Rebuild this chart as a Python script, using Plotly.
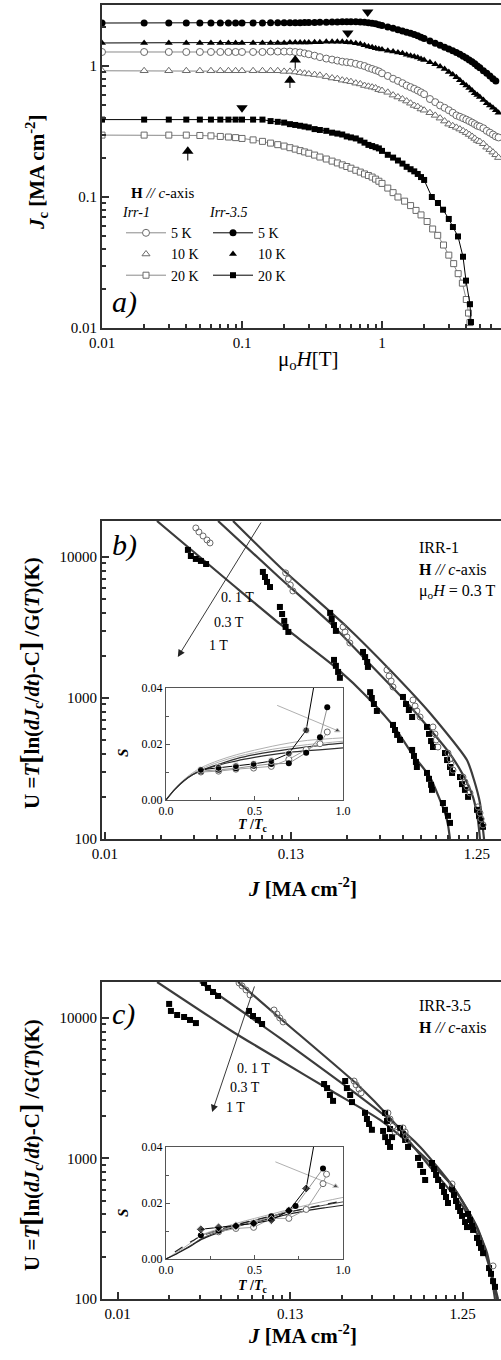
import math
import plotly.graph_objects as go

FONT = "Liberation Serif"
W, HGT = 501, 1360

# ---------------- Panel a: Jc vs mu0H ----------------
H_low = [0.01, 0.02, 0.03, 0.04, 0.05, 0.06, 0.07, 0.08, 0.09, 0.10,
         0.12, 0.14, 0.16, 0.18, 0.20, 0.22, 0.24, 0.26, 0.28, 0.30,
         0.33, 0.36, 0.40, 0.44, 0.48, 0.52, 0.56, 0.60, 0.65, 0.70,
         0.75, 0.80, 0.85, 0.90, 0.95, 1.0]
H_tail_65 = [1.1, 1.2, 1.3, 1.4, 1.5, 1.6, 1.7, 1.8, 1.9, 2.0,
             2.2, 2.4, 2.6, 2.8, 3.0, 3.2, 3.4, 3.6, 3.8, 4.0,
             4.2, 4.4, 4.6, 4.8, 5.0, 5.3, 5.6, 5.9, 6.2, 6.5]
H_tail_68 = H_tail_65 + [6.8]
H_tail_irr35_20K = [1.1, 1.2, 1.3, 1.4, 1.5, 1.6, 1.7, 1.8, 1.9, 2.0,
                    2.27, 2.51, 2.73, 3.0, 3.21, 3.49, 3.79, 3.98, 4.25, 4.32]
H_tail_irr1_20K = [1.1, 1.2, 1.3, 1.45, 1.6, 1.75, 1.9, 2.1, 2.3, 2.5,
                   2.75, 3.0, 3.25, 3.5, 3.75, 4.0, 4.15, 4.25]

Jc_irr35_5K = [2.13, 2.13, 2.13, 2.13, 2.13, 2.13, 2.13, 2.13, 2.13, 2.13,
               2.13, 2.13, 2.14, 2.14, 2.14, 2.14, 2.14, 2.14, 2.15, 2.15,
               2.15, 2.16, 2.16, 2.17, 2.17, 2.18, 2.18, 2.18, 2.18, 2.17,
               2.16, 2.14, 2.12, 2.10, 2.07, 2.04,
               1.99, 1.94, 1.89, 1.85, 1.81, 1.78, 1.74, 1.70, 1.66, 1.62,
               1.55, 1.49, 1.44, 1.39, 1.35, 1.31, 1.27, 1.23, 1.19, 1.15,
               1.11, 1.08, 1.04, 1.00, 0.97, 0.92, 0.88, 0.84, 0.80, 0.77]
Jc_irr35_10K = [1.50, 1.50, 1.50, 1.50, 1.50, 1.50, 1.50, 1.50, 1.50, 1.50,
                1.50, 1.50, 1.50, 1.50, 1.50, 1.51, 1.51, 1.51, 1.51, 1.51,
                1.52, 1.52, 1.53, 1.53, 1.53, 1.53, 1.52, 1.51, 1.49, 1.47,
                1.44, 1.41, 1.39, 1.37, 1.35, 1.34,
                1.31, 1.29, 1.27, 1.25, 1.22, 1.20, 1.18, 1.16, 1.13, 1.11,
                1.07, 1.03, 0.99, 0.95, 0.90, 0.86, 0.82, 0.78, 0.74, 0.71,
                0.68, 0.65, 0.62, 0.60, 0.58, 0.55, 0.52, 0.50, 0.48, 0.46, 0.44]
Jc_irr35_20K = [0.39, 0.39, 0.39, 0.39, 0.39, 0.39, 0.39, 0.39, 0.39, 0.39,
                0.39, 0.39, 0.38, 0.375, 0.37, 0.36, 0.355, 0.35, 0.345, 0.34,
                0.33, 0.325, 0.32, 0.31, 0.305, 0.30, 0.29, 0.285, 0.28, 0.27,
                0.26, 0.25, 0.245, 0.24, 0.235, 0.225,
                0.21, 0.20, 0.19, 0.18, 0.17, 0.163, 0.157, 0.15, 0.142, 0.135,
                0.10, 0.09, 0.08, 0.068, 0.059, 0.05, 0.035, 0.023, 0.0152, 0.0111]
Jc_irr1_5K = [1.28, 1.28, 1.28, 1.28, 1.28, 1.28, 1.28, 1.28, 1.28, 1.28,
              1.28, 1.28, 1.29, 1.29, 1.29, 1.29, 1.28, 1.27, 1.25, 1.23,
              1.20, 1.17, 1.14, 1.12, 1.10, 1.08, 1.07, 1.06, 1.04, 1.02,
              1.00, 0.97, 0.95, 0.93, 0.91, 0.88,
              0.84, 0.80, 0.77, 0.74, 0.71, 0.69, 0.67, 0.65, 0.63, 0.61,
              0.56, 0.53, 0.50, 0.48, 0.46, 0.44, 0.42, 0.41, 0.40, 0.39,
              0.38, 0.37, 0.36, 0.35, 0.345, 0.335, 0.32, 0.31, 0.30, 0.29, 0.285]
Jc_irr1_10K = [0.92, 0.92, 0.92, 0.92, 0.92, 0.92, 0.92, 0.92, 0.92, 0.92,
               0.92, 0.92, 0.92, 0.92, 0.91, 0.91, 0.90, 0.89, 0.88, 0.87,
               0.86, 0.85, 0.83, 0.81, 0.80, 0.78, 0.77, 0.76, 0.74, 0.73,
               0.71, 0.70, 0.69, 0.68, 0.66, 0.65,
               0.63, 0.60, 0.58, 0.56, 0.54, 0.52, 0.50, 0.49, 0.47, 0.46,
               0.44, 0.42, 0.40, 0.38, 0.36, 0.35, 0.34, 0.33, 0.32, 0.31,
               0.30, 0.29, 0.28, 0.27, 0.265, 0.255, 0.24, 0.23, 0.22, 0.21, 0.20]
Jc_irr1_20K = [0.297, 0.297, 0.297, 0.297, 0.295, 0.293, 0.29, 0.287, 0.284, 0.28,
               0.273, 0.266, 0.258, 0.251, 0.245, 0.238, 0.232, 0.226, 0.221, 0.216,
               0.209, 0.202, 0.195, 0.188, 0.182, 0.176, 0.171, 0.166, 0.16, 0.155,
               0.15, 0.146, 0.142, 0.137, 0.132, 0.127,
               0.117, 0.108, 0.100, 0.093, 0.086, 0.079, 0.073, 0.065, 0.057, 0.051,
               0.043, 0.036, 0.031, 0.026, 0.022, 0.0165, 0.013, 0.011]

# crossover-field arrows of panel a
arrow_down_H = [0.79, 0.57, 0.10]
arrow_down_J = [2.58, 1.79, 0.48]
arrow_up_H = [0.24, 0.22, 0.041]
arrow_up_J = [1.11, 0.78, 0.224]
arrow_up_stem_J = [0.96, 0.68, 0.19]

# ---------------- Panel b: U(J), IRR-1 ----------------
fitb_01T_J = [0.061, 0.109, 0.250, 0.426, 0.698, 1.104, 1.205, 1.297, 1.330, 1.364]
fitb_01T_U = [17990, 8490, 3190, 1580, 783, 363, 262, 180, 136, 100]
fitb_03T_J = [0.0507, 0.109, 0.203, 0.305, 0.526, 0.863, 1.038, 1.189, 1.265, 1.297]
fitb_03T_U = [17990, 7100, 3400, 1953, 923, 428, 294, 199, 136, 100]
fitb_1T_J = [0.0238, 0.061, 0.109, 0.216, 0.333, 0.453, 0.566, 0.698, 0.841, 0.873, 0.895]
fitb_1T_U = [17990, 6330, 3350, 1660, 968, 612, 394, 275, 153, 126, 100]

b_filled_J = [0.0349, 0.0362, 0.0385, 0.0410, 0.0437,
              0.0883, 0.0906, 0.0929, 0.0964,
              0.109, 0.112, 0.115, 0.117, 0.121,
              0.203, 0.207, 0.213, 0.218,
              0.213, 0.218, 0.224, 0.229,
              0.305, 0.313, 0.321, 0.324,
              0.333, 0.340, 0.349, 0.362,
              0.442, 0.453, 0.465, 0.482,
              0.500, 0.519, 0.538, 0.560,
              0.560, 0.573, 0.587, 0.594,
              0.673, 0.690, 0.708, 0.725,
              0.673, 0.690, 0.708, 0.716,
              0.841, 0.863, 0.895, 0.918,
              0.820, 0.841, 0.873, 0.895,
              1.013, 1.038, 1.077, 1.119,
              1.250, 1.282, 1.315, 1.347]
b_filled_U = [11220, 10160, 9680, 9370, 8910,
              7830, 7210, 6650, 6120,
              4420, 3940, 3520, 3190, 2940,
              4010, 3630, 3290, 2990,
              1862, 1690, 1530, 1390,
              2120, 1950, 1800, 1660,
              1100, 1000, 906, 809,
              644, 593, 547, 504,
              1017, 906, 822, 733,
              428, 388, 352, 324,
              623, 556, 495, 449,
              294, 267, 242, 223,
              407, 363, 324, 294,
              180, 161, 146, 130,
              275, 245, 223, 199,
              161, 146, 134, 122]
b_open_J = [0.0385, 0.0400, 0.0421, 0.0442, 0.0459,
            0.117, 0.121, 0.124, 0.128,
            0.238, 0.244, 0.250, 0.259,
            0.410, 0.421, 0.432, 0.442,
            0.566, 0.581, 0.594, 0.618,
            0.725, 0.743, 0.754, 0.771,
            0.873, 0.895, 0.906, 0.929,
            1.051, 1.077, 1.104, 1.146,
            1.265, 1.297, 1.315, 1.347]
b_open_U = [16060, 15040, 14090, 13200, 12570,
            7710, 6980, 6330, 5740,
            3190, 2940, 2710, 2455,
            1580, 1432, 1320, 1197,
            968, 877, 809, 733,
            623, 556, 504, 449,
            407, 369, 340, 308,
            275, 254, 234, 212,
            169, 153, 139, 126]

# field arrow in panel b (tail -> head)
b_arrow_J = [0.0873, 0.0308]
b_arrow_U = [17990, 1953]

# ---------------- Panel c: U(J), IRR-3.5 ----------------
fitc_01T_J = [0.0625, 0.109, 0.318, 0.475, 0.811, 1.259, 1.644, 1.879, 2.009]
fitc_01T_U = [18030, 10000, 3230, 1942, 870, 452, 234, 137, 100]
fitc_03T_J = [0.0376, 0.109, 0.267, 0.475, 0.710, 1.102, 1.517, 1.804, 1.982]
fitc_03T_U = [18030, 7210, 3230, 1880, 1208, 627, 325, 169, 100]
fitc_1T_J = [0.0212, 0.0585, 0.109, 0.213, 0.416, 0.710, 1.102, 1.439, 1.734, 1.928]
fitc_1T_U = [18030, 7950, 5020, 3070, 1880, 1094, 627, 365, 212, 100]

c_filled_J = [0.0249, 0.0255, 0.0277, 0.0304, 0.0329, 0.0356,
              0.0397, 0.0418, 0.0447, 0.0478,
              0.0723, 0.0763, 0.0815, 0.0861,
              0.197, 0.205, 0.213, 0.222,
              0.261, 0.267, 0.279, 0.286,
              0.340, 0.349, 0.359, 0.373,
              0.445, 0.456, 0.475, 0.488,
              0.433, 0.445, 0.462, 0.475,
              0.543, 0.565, 0.581, 0.604,
              0.690, 0.710, 0.738, 0.759,
              0.832, 0.855, 0.878, 0.902,
              0.951, 0.977, 1.003, 1.030,
              1.087, 1.116, 1.146, 1.178,
              1.210, 1.242, 1.293, 1.327,
              1.345, 1.382, 1.419, 1.439,
              1.517, 1.558, 1.600, 1.644,
              1.781, 1.828, 1.879, 1.928]
c_filled_U = [12590, 11220, 10500, 10160, 9680, 9200,
              17750, 16360, 15310, 14340,
              11220, 10330, 9680, 9060,
              3390, 3170, 2830, 2570,
              3560, 3170, 2830, 2520,
              2110, 1910, 1760, 1600,
              2110, 1850, 1620, 1420,
              1570, 1420, 1310, 1208,
              1650, 1490, 1355, 1208,
              1009, 899, 802, 703,
              929, 842, 763, 703,
              637, 578, 532, 482,
              607, 550, 498, 452,
              423, 390, 353, 325,
              403, 365, 331, 310,
              272, 250, 231, 212,
              166, 151, 134, 122]
c_open_J = [0.0633, 0.0659, 0.0695, 0.0733,
            0.101, 0.105, 0.109, 0.114,
            0.294, 0.302, 0.314, 0.323,
            0.462, 0.475, 0.494, 0.508,
            0.565, 0.581, 0.588, 0.604,
            1.087, 1.879]
c_open_U = [17750, 16900, 15820, 14580,
            11400, 10670, 10000, 9370,
            3560, 3340, 3120, 2930,
            2110, 1910, 1700, 1545,
            1650, 1545, 1445, 1355,
            659, 172]

c_arrow_J = [0.0783, 0.0442]
c_arrow_U = [17180, 2140]

# ---------------- Insets: S(T/Tc) ----------------
fit_T = [0.0, 0.05, 0.1, 0.15, 0.2, 0.3, 0.4, 0.5, 0.6, 0.7, 0.8, 0.9, 1.0]
insb_fit_dark1 = [0, 0.0038, 0.0068, 0.0090, 0.0105, 0.0125, 0.0140, 0.0152, 0.0162, 0.0170, 0.0176, 0.0181, 0.0186]
insb_fit_dark2 = [0, 0.0038, 0.0068, 0.0090, 0.0106, 0.0128, 0.0148, 0.0162, 0.0173, 0.0182, 0.0190, 0.0197, 0.0203]
insb_fit_gray1 = [0, 0.0040, 0.0072, 0.0097, 0.0116, 0.0142, 0.0162, 0.0178, 0.0192, 0.0204, 0.0213, 0.0218, 0.0222]
insb_fit_gray2 = [0, 0.0039, 0.0070, 0.0094, 0.0111, 0.0136, 0.0155, 0.0169, 0.0181, 0.0190, 0.0198, 0.0204, 0.0210]

insb_s1_T = [0.197, 0.297, 0.395, 0.495, 0.595, 0.694, 0.792, 0.835]
insb_s1_S = [0.0108, 0.0115, 0.0121, 0.0129, 0.0139, 0.0166, 0.0249, 0.0405]
insb_s2_T = [0.197, 0.297, 0.395, 0.495, 0.595, 0.694, 0.792, 0.870, 0.911]
insb_s2_S = [0.0103, 0.0108, 0.0113, 0.0122, 0.0129, 0.0131, 0.0169, 0.0224, 0.0331]
insb_open_T = [0.197, 0.297, 0.395, 0.495, 0.595, 0.694, 0.792, 0.870, 0.911]
insb_open_S = [0.0100, 0.0103, 0.0110, 0.0114, 0.0120, 0.0145, 0.0180, 0.0201, 0.0243]
insb_ptr_T = [0.628, 0.968]
insb_ptr_S = [0.0338, 0.0248]

fit_T_dash = [0.05, 0.1, 0.15, 0.2, 0.3, 0.4, 0.5, 0.6, 0.7, 0.8, 0.9, 1.0]
insc_fit_solid1 = [0, 0.0015, 0.0032, 0.0050, 0.0070, 0.0095, 0.0116, 0.0132, 0.0146, 0.0161, 0.0173, 0.0183, 0.0192]
insc_fit_solid2 = [0, 0.0016, 0.0034, 0.0053, 0.0073, 0.0099, 0.0121, 0.0138, 0.0153, 0.0169, 0.0181, 0.0193, 0.0204]
insc_fit_gray = [0, 0.0020, 0.0040, 0.0062, 0.0085, 0.0108, 0.0128, 0.0145, 0.0161, 0.0178, 0.0193, 0.0207, 0.0220]
insc_fit_dash = [0.0025, 0.0046, 0.0065, 0.0082, 0.0104, 0.0123, 0.0139, 0.0154, 0.0168, 0.0182, 0.0195, 0.0207]

insc_s1_T = [0.197, 0.297, 0.395, 0.495, 0.595, 0.694, 0.792, 0.835]
insc_s1_S = [0.0106, 0.0113, 0.0118, 0.0127, 0.0139, 0.0172, 0.0252, 0.0405]
insc_s2_T = [0.197, 0.297, 0.395, 0.495, 0.595, 0.694, 0.732, 0.887]
insc_s2_S = [0.0085, 0.0101, 0.0118, 0.0129, 0.0153, 0.0174, 0.0189, 0.0323]
insc_open_T = [0.297, 0.395, 0.495, 0.595, 0.694, 0.792, 0.887, 0.907]
insc_open_S = [0.0097, 0.0109, 0.0113, 0.0145, 0.0145, 0.0177, 0.0269, 0.0303]
insc_ptr_T = [0.618, 0.958]
insc_ptr_S = [0.0347, 0.0260]

# ---------------- build figure ----------------
GRAY_L = "#8a8a8a"
GRAY_M = "#6a6a6a"
DARK = "#3c3c3c"

fig = go.Figure()

def add(tr):
    fig.add_trace(tr)

# panel a series
add(go.Scatter(x=H_low + H_tail_68, y=Jc_irr1_5K, mode="lines+markers", name="5 K",
               legend="legend", xaxis="x", yaxis="y",
               line=dict(color=GRAY_L, width=1),
               marker=dict(symbol="circle", size=7, color="white", line=dict(color=GRAY_M, width=1))))
add(go.Scatter(x=H_low + H_tail_68, y=Jc_irr1_10K, mode="lines", showlegend=False,
               xaxis="x", yaxis="y", line=dict(color=GRAY_L, width=1)))
add(go.Scatter(x=H_low + H_tail_68, y=Jc_irr1_10K, mode="markers", name="10 K",
               legend="legend", xaxis="x", yaxis="y",
               marker=dict(symbol="triangle-up", size=7, color="white", line=dict(color=GRAY_M, width=1))))
add(go.Scatter(x=H_low + H_tail_irr1_20K, y=Jc_irr1_20K, mode="lines+markers", name="20 K",
               legend="legend", xaxis="x", yaxis="y",
               line=dict(color=GRAY_L, width=1),
               marker=dict(symbol="square", size=6, color="white", line=dict(color=GRAY_M, width=1))))
add(go.Scatter(x=H_low + H_tail_65, y=Jc_irr35_5K, mode="lines+markers", name="5 K",
               legend="legend2", xaxis="x", yaxis="y",
               line=dict(color="black", width=1),
               marker=dict(symbol="circle", size=7, color="black")))
add(go.Scatter(x=H_low + H_tail_68, y=Jc_irr35_10K, mode="lines", showlegend=False,
               xaxis="x", yaxis="y", line=dict(color="black", width=1)))
add(go.Scatter(x=H_low + H_tail_68, y=Jc_irr35_10K, mode="markers", name="10 K",
               legend="legend2", xaxis="x", yaxis="y",
               marker=dict(symbol="triangle-up", size=7, color="black")))
add(go.Scatter(x=H_low + H_tail_irr35_20K, y=Jc_irr35_20K, mode="lines+markers", name="20 K",
               legend="legend2", xaxis="x", yaxis="y",
               line=dict(color="black", width=1),
               marker=dict(symbol="square", size=6, color="black")))

# arrows panel a
add(go.Scatter(x=arrow_down_H, y=arrow_down_J, mode="markers", showlegend=False,
               xaxis="x", yaxis="y", marker=dict(symbol="triangle-down", size=10, color="black")))
stem_x, stem_y = [], []
for h, top, bot in zip(arrow_up_H, arrow_up_J, arrow_up_stem_J):
    stem_x += [h, h, None]
    stem_y += [top, bot, None]
add(go.Scatter(x=stem_x, y=stem_y, mode="lines", showlegend=False, xaxis="x", yaxis="y",
               line=dict(color="black", width=1)))
add(go.Scatter(x=arrow_up_H, y=arrow_up_J, mode="markers", showlegend=False,
               xaxis="x", yaxis="y", marker=dict(symbol="triangle-up", size=10, color="black")))

# panel b
for jx, uy in [(fitb_01T_J, fitb_01T_U), (fitb_03T_J, fitb_03T_U), (fitb_1T_J, fitb_1T_U)]:
    add(go.Scatter(x=jx, y=uy, mode="lines", showlegend=False, xaxis="x2", yaxis="y2",
                   line=dict(color=DARK, width=2.2, shape="spline", smoothing=0.6)))
add(go.Scatter(x=b_filled_J, y=b_filled_U, mode="markers", showlegend=False, xaxis="x2", yaxis="y2",
               marker=dict(symbol="square", size=6, color="black")))
add(go.Scatter(x=b_open_J, y=b_open_U, mode="markers", showlegend=False, xaxis="x2", yaxis="y2",
               marker=dict(symbol="circle-open", size=6, color=GRAY_M, line=dict(width=1))))

# panel c
for jx, uy in [(fitc_01T_J, fitc_01T_U), (fitc_03T_J, fitc_03T_U), (fitc_1T_J, fitc_1T_U)]:
    add(go.Scatter(x=jx, y=uy, mode="lines", showlegend=False, xaxis="x3", yaxis="y3",
                   line=dict(color=DARK, width=2.2, shape="spline", smoothing=0.6)))
add(go.Scatter(x=c_filled_J, y=c_filled_U, mode="markers", showlegend=False, xaxis="x3", yaxis="y3",
               marker=dict(symbol="square", size=6, color="black")))
add(go.Scatter(x=c_open_J, y=c_open_U, mode="markers", showlegend=False, xaxis="x3", yaxis="y3",
               marker=dict(symbol="circle-open", size=6, color=GRAY_M, line=dict(width=1))))

# inset b
for s, col, w in [(insb_fit_gray1, "#b0b0b0", 1), (insb_fit_gray2, "#b0b0b0", 1),
                  (insb_fit_dark2, "#303030", 1.2), (insb_fit_dark1, "#303030", 1.2)]:
    add(go.Scatter(x=fit_T, y=s, mode="lines", showlegend=False, xaxis="x4", yaxis="y4",
                   line=dict(color=col, width=w, shape="spline")))
add(go.Scatter(x=insb_ptr_T, y=insb_ptr_S, mode="lines+markers", showlegend=False, xaxis="x4", yaxis="y4",
               line=dict(color="#b0b0b0", width=1),
               marker=dict(symbol=["circle", "triangle-up"], size=[0, 5], color="black")))
add(go.Scatter(x=insb_open_T, y=insb_open_S, mode="lines+markers", showlegend=False, xaxis="x4", yaxis="y4",
               line=dict(color="#a0a0a0", width=1),
               marker=dict(symbol="circle", size=6, color="white", line=dict(color=GRAY_M, width=1))))
add(go.Scatter(x=insb_s2_T, y=insb_s2_S, mode="lines+markers", showlegend=False, xaxis="x4", yaxis="y4",
               line=dict(color="#909090", width=1),
               marker=dict(symbol="circle", size=6, color="black")))
add(go.Scatter(x=insb_s1_T, y=insb_s1_S, mode="lines+markers", showlegend=False, xaxis="x4", yaxis="y4",
               line=dict(color="black", width=1),
               marker=dict(symbol="circle", size=[7, 7, 7, 7, 7, 7, 7, 0], color="black")))

# inset c
for tt, s, col, w, dash in [(fit_T, insc_fit_gray, "#b0b0b0", 1, "solid"),
                            (fit_T, insc_fit_solid2, "#505050", 1, "solid"),
                            (fit_T, insc_fit_solid1, "#202020", 1.2, "solid"),
                            (fit_T_dash, insc_fit_dash, "#202020", 1.2, "dash")]:
    add(go.Scatter(x=tt, y=s, mode="lines", showlegend=False, xaxis="x5", yaxis="y5",
                   line=dict(color=col, width=w, shape="spline", dash=dash)))
add(go.Scatter(x=insc_ptr_T, y=insc_ptr_S, mode="lines+markers", showlegend=False, xaxis="x5", yaxis="y5",
               line=dict(color="#b0b0b0", width=1),
               marker=dict(symbol=["circle", "triangle-up"], size=[0, 5], color="black")))
add(go.Scatter(x=insc_open_T, y=insc_open_S, mode="lines+markers", showlegend=False, xaxis="x5", yaxis="y5",
               line=dict(color="#a0a0a0", width=1),
               marker=dict(symbol="circle", size=6, color="white", line=dict(color=GRAY_M, width=1))))
add(go.Scatter(x=insc_s2_T, y=insc_s2_S, mode="lines+markers", showlegend=False, xaxis="x5", yaxis="y5",
               line=dict(color="#909090", width=1),
               marker=dict(symbol="circle", size=6, color="black")))
add(go.Scatter(x=insc_s1_T, y=insc_s1_S, mode="lines+markers", showlegend=False, xaxis="x5", yaxis="y5",
               line=dict(color="black", width=1),
               marker=dict(symbol="diamond", size=[7, 7, 7, 7, 7, 7, 7, 0], color="black")))

# ---------------- axes ----------------
def px(x):
    return x / W

def py(y):
    return 1 - y / HGT

def minor_log(lo, hi, bases):
    vals = []
    for b in bases:
        for k in range(2, 10):
            v = b * k
            if lo <= v <= hi:
                vals.append(v)
    return vals

tickfont = dict(family=FONT, size=15, color="black")
main_common = dict(showline=True, linecolor="#303030", linewidth=2, ticks="inside", ticklen=7,
                   tickwidth=1.5, tickcolor="#303030", showgrid=False, zeroline=False,
                   tickfont=tickfont, automargin=False)

fig.update_layout(
    xaxis=dict(domain=[px(102), 1], type="log", range=[-2, 0.85], anchor="y", mirror=True,
               tickvals=[0.01, 0.1, 1], ticktext=["0.01", "0.1", "1"],
               minor=dict(tickvals=minor_log(0.01, 7, [0.01, 0.1, 1]), ticks="inside", ticklen=4,
                          tickcolor="#303030"),
               **main_common),
    yaxis=dict(domain=[py(328), py(5)], type="log", range=[-2, 0.466], anchor="x",
               tickvals=[0.01, 0.1, 1], ticktext=["0.01", "0.1", "1"],
               minor=dict(tickvals=minor_log(0.01, 2.9, [0.01, 0.1, 1]), ticks="inside", ticklen=4,
                          tickcolor="#303030"),
               **main_common),
    xaxis2=dict(domain=[px(102), 1], type="log", range=[-1.919, 0.226], anchor="y2", mirror=True,
                tickvals=[0.0125, 0.125, 1.25], ticktext=["0.01", "0.13", "1.25"],
                minor=dict(tickvals=minor_log(0.012, 1.7, [0.0125, 0.125, 1.25]), ticks="inside",
                           ticklen=4, tickcolor="#303030"),
                **main_common),
    yaxis2=dict(domain=[py(839), py(521)], type="log", range=[2, 4.255], anchor="x2",
                tickvals=[100, 1000, 10000], ticktext=["100", "1000", "10000"],
                minor=dict(tickvals=minor_log(100, 18000, [100, 1000, 10000]), ticks="inside",
                           ticklen=4, tickcolor="#303030"),
                **main_common),
    xaxis3=dict(domain=[px(102), 1], type="log", range=[-1.993, 0.320], anchor="y3", mirror=True,
                tickvals=[0.0125, 0.125, 1.25], ticktext=["0.01", "0.13", "1.25"],
                minor=dict(tickvals=minor_log(0.0102, 2.08, [0.0125, 0.125, 1.25]), ticks="inside",
                           ticklen=4, tickcolor="#303030"),
                **main_common),
    yaxis3=dict(domain=[py(1299), py(982)], type="log", range=[2, 4.256], anchor="x3",
                tickvals=[100, 1000, 10000], ticktext=["100", "1000", "10000"],
                minor=dict(tickvals=minor_log(100, 18000, [100, 1000, 10000]), ticks="inside",
                           ticklen=4, tickcolor="#303030"),
                **main_common),
)

inset_common = dict(showline=True, linecolor="#555555", linewidth=1, mirror=True, ticks="inside",
                    ticklen=4, tickwidth=1, tickcolor="#555555", showgrid=False, zeroline=False,
                    tickfont=dict(family=FONT, size=12, color="black"), automargin=False)
for n, (y0, y1) in [(4, (800, 688)), (5, (1259, 1147))]:
    fig.update_layout(**{
        f"xaxis{n}": dict(domain=[px(166), px(343)], range=[0, 1], anchor=f"y{n}",
                          tickvals=[0, 0.5, 1.0], ticktext=["0.0", "0.5", "1.0"],
                          minor=dict(dtick=0.25, ticks="inside", ticklen=3, tickcolor="#555555"),
                          **inset_common),
        f"yaxis{n}": dict(domain=[py(y0), py(y1)], range=[0, 0.04], anchor=f"x{n}",
                          tickvals=[0, 0.02, 0.04], ticktext=["0.00", "0.02", "0.04"],
                          minor=dict(dtick=0.01, ticks="inside", ticklen=3, tickcolor="#555555"),
                          **inset_common),
    })

# ---------------- legends ----------------
leg_font = dict(family=FONT, size=14, color="black")
fig.update_layout(
    legend=dict(x=px(121), y=py(199), xanchor="left", yanchor="top", bgcolor="rgba(0,0,0,0)",
                font=leg_font, title=dict(text="<i>Irr-1</i>", font=leg_font),
                itemwidth=40, tracegroupgap=0),
    legend2=dict(x=px(208), y=py(199), xanchor="left", yanchor="top", bgcolor="rgba(0,0,0,0)",
                 font=leg_font, title=dict(text="<i>Irr-3.5</i>", font=leg_font),
                 itemwidth=40, tracegroupgap=0),
)

# ---------------- annotations ----------------
ann = []

def text(x, y, s, size=15, xanchor="center", angle=0):
    ann.append(dict(x=px(x), y=py(y), xref="paper", yref="paper", text=s, showarrow=False,
                    xanchor=xanchor, yanchor="middle", textangle=angle,
                    font=dict(family=FONT, size=size, color="black")))

text(129, 193, "<b>H</b> <i>//</i> <i>c</i>-axis", 15, "left")
text(110, 302, "<i>a)</i>", 30, "left")
text(110, 545, "<i>b)</i>", 30, "left")
text(110, 1014, "<i>c)</i>", 30, "left")

text(417, 547, "IRR-1", 16, "left")
text(417, 569, "<b>H</b> <i>//</i> <i>c</i>-axis", 16, "left")
text(417, 591, "μ<sub>o</sub><i>H</i> = 0.3 T", 16, "left")
text(417, 1005, "IRR-3.5", 16, "left")
text(417, 1027, "<b>H</b> <i>//</i> <i>c</i>-axis", 16, "left")

text(219, 597, "0. 1 T", 14, "left")
text(212, 623, "0.3 T", 14, "left")
text(207, 645, "1 T", 14, "left")
text(235, 1068, "0. 1 T", 14, "left")
text(228, 1087, "0.3 T", 14, "left")
text(224, 1107, "1 T", 14, "left")

# axis titles
text(36, 173, "<b><i>J</i><sub>c</sub> [MA cm<sup>-2</sup>]</b>", 21, angle=-90)
text(308, 360, "μ<sub>o</sub><i>H</i>[T]", 21)
ytitle = ('<b>U =<i>T</i><span style="font-size:28px">[</span>ln(<i>dJ</i><sub>c</sub>/<i>dt</i>)-C'
          '<span style="font-size:28px">]</span> /G(<i>T</i>)(K)</b>')
text(30, 683, ytitle, 21, angle=-90)
text(30, 1145, ytitle, 21, angle=-90)
text(302, 887, "<b><i>J</i> [MA cm<sup>-2</sup>]</b>", 21)
text(302, 1334, "<b><i>J</i> [MA cm<sup>-2</sup>]</b>", 21)
text(123, 753, "<b><i>S</i></b>", 15, angle=-90)
text(123, 1213, "<b><i>S</i></b>", 15, angle=-90)
text(253, 826, "<b><i>T</i> /<i>T</i><sub>c</sub></b>", 14)
text(253, 1286, "<b><i>T</i> /<i>T</i><sub>c</sub></b>", 14)

# field arrows panels b and c
for xr, yr, jx, uy in [("x2", "y2", b_arrow_J, b_arrow_U), ("x3", "y3", c_arrow_J, c_arrow_U)]:
    ann.append(dict(x=math.log10(jx[1]), y=math.log10(uy[1]), ax=math.log10(jx[0]), ay=math.log10(uy[0]),
                    xref=xr, yref=yr, axref=xr, ayref=yr, text="", showarrow=True,
                    arrowhead=2, arrowsize=1.6, arrowwidth=0.9, arrowcolor="#222222"))

fig.update_layout(annotations=ann)

fig.update_layout(width=W, height=HGT, autosize=False,
                  margin=dict(l=0, r=0, t=0, b=0, autoexpand=False),
                  paper_bgcolor="white", plot_bgcolor="white",
                  font=dict(family=FONT, color="black"))

fig.write_html("out.html", config={"displayModeBar": False},
               post_script="document.body.style.margin='0';document.body.style.overflow='hidden';")
